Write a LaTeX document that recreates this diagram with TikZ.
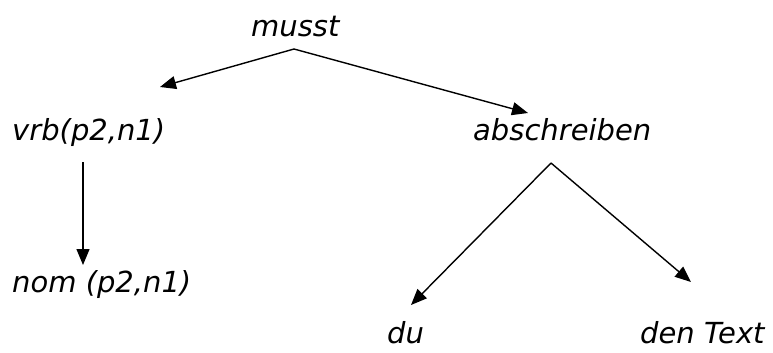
\documentclass[tikz,border=0pt]{standalone}
\usepackage{fontspec}
\setmainfont{DejaVu Sans}
\usetikzlibrary{arrows.meta}
\begin{document}
\begin{tikzpicture}[x=1pt,y=-1pt,
  lbl/.style={anchor=base west,inner sep=0pt,font=\fontsize{29}{34}\selectfont\itshape},
  arr/.style={line width=1.4pt,-{Triangle[length=16pt,width=13pt]}}]
\useasboundingbox (0,0) rectangle (773,353);
\node[lbl] (musst) at (251,37) {musst};
\node[lbl] (vrb) at (12,140) {vrb(p2,n1)};
\node[lbl] (abs) at (473,140) {abschreiben};
\node[lbl] (nom) at (12,292) {nom (p2,n1)};
\node[lbl] (du) at (387,343) {du};
\node[lbl] (den) at (640,343) {den Text};
\coordinate (apex1) at (294,49);
\coordinate (t1) at (160,87);
\coordinate (t2) at (528,113);
\coordinate (v1) at (83,162);
\coordinate (v2) at (83,265);
\coordinate (apex2) at (551,163);
\coordinate (t3) at (411,305);
\coordinate (t4) at (691,282);
\draw[arr] (apex1) -- (t1);
\draw[arr] (apex1) -- (t2);
\draw[arr] (v1) -- (v2);
\draw[arr] (apex2) -- (t3);
\draw[arr] (apex2) -- (t4);
\end{tikzpicture}
\end{document}
